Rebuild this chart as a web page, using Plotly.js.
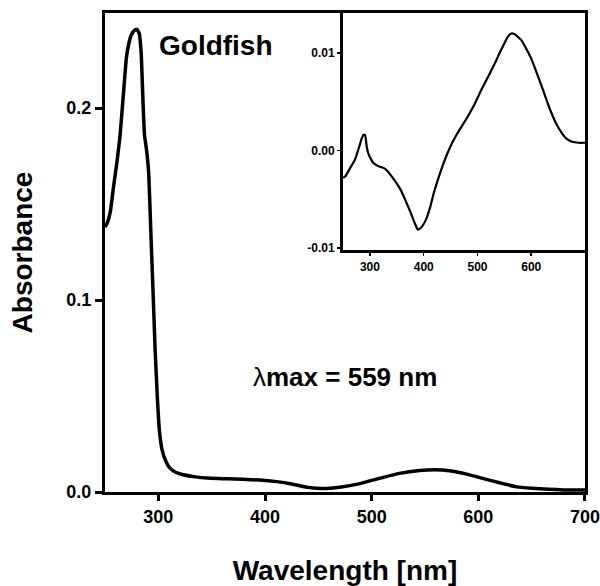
<!DOCTYPE html>
<html>
<head>
<meta charset="utf-8">
<script src="https://cdn.plot.ly/plotly-3.0.1.min.js"></script>
<style>html,body{margin:0;padding:0;background:#fff;}#plot{width:600px;height:586px;}</style>
</head>
<body>
<div id="plot"></div>
<script>
// Main absorbance spectrum (Goldfish)
const mainWavelength = [250, 252, 255, 258, 261, 264, 267.5, 270, 272.5, 275, 277.5, 280, 282, 284, 285.5, 287, 289, 291, 293, 295, 297, 299, 301, 303.5, 306.5, 310, 314, 320, 333, 349, 365, 379, 395, 411, 425, 440, 455, 470, 490, 510, 526, 545, 559, 573, 590, 604, 620, 635, 650, 666, 680, 700];
const mainAbsorbance = [0.138, 0.140, 0.146, 0.159, 0.171, 0.185, 0.209, 0.226, 0.234, 0.2385, 0.2405, 0.241, 0.239, 0.228, 0.205, 0.186, 0.178, 0.166, 0.135, 0.105, 0.074, 0.050, 0.032, 0.022, 0.0167, 0.013, 0.011, 0.0095, 0.008, 0.0071, 0.0069, 0.0066, 0.0062, 0.0054, 0.0042, 0.0024, 0.0018, 0.0025, 0.0045, 0.0075, 0.0097, 0.0112, 0.0116, 0.0111, 0.0092, 0.0071, 0.0048, 0.0028, 0.0019, 0.0014, 0.0011, 0.001];
// Inset difference spectrum
const insetWavelength = [250, 254, 263, 272, 280, 285, 288, 291, 294, 297, 302, 307, 316, 326, 334, 341, 349, 357, 366, 376, 383, 389, 395, 404, 412, 419, 431, 444, 453, 463, 472, 482, 495, 507, 520, 532, 542, 551, 557, 563, 570, 582, 591, 601, 610, 620, 629, 638, 647, 657, 666, 676, 688, 700];
const insetValue = [-0.0028, -0.00265, -0.0018, -0.00095, 0.0004, 0.0013, 0.0016, 0.0016, 0.0004, -0.0003, -0.0009, -0.0013, -0.0016, -0.0018, -0.0022, -0.0027, -0.0033, -0.004, -0.0051, -0.0064, -0.0074, -0.0081, -0.0079, -0.0071, -0.0058, -0.0043, -0.0022, -0.0003, 0.0008, 0.0018, 0.0026, 0.0035, 0.0048, 0.0062, 0.0076, 0.0089, 0.0101, 0.0111, 0.0117, 0.0120, 0.0119, 0.0113, 0.0104, 0.0093, 0.0080, 0.0065, 0.0051, 0.0038, 0.0027, 0.0018, 0.0012, 0.0009, 0.0008, 0.0008];

const mainXTicks = [300, 400, 500, 600, 700];
const mainYTicks = [0.0, 0.1, 0.2];
const mainYTickText = ['0.0', '0.1', '0.2'];
const insetXTicks = [300, 400, 500, 600];
const insetYTicks = [-0.01, 0.0, 0.01];
const insetYTickText = ['-0.01', '0.00', '0.01'];

const FONT = 'Liberation Sans, Arial, Helvetica, sans-serif';

const traces = [
  {x: mainWavelength, y: mainAbsorbance, type: 'scatter', mode: 'lines',
   line: {color: '#000', width: 3.5, shape: 'spline', smoothing: 0.3},
   xaxis: 'x', yaxis: 'y', hoverinfo: 'skip', showlegend: false},
  {x: insetWavelength, y: insetValue, type: 'scatter', mode: 'lines',
   line: {color: '#000', width: 2.2, shape: 'spline', smoothing: 0.4},
   xaxis: 'x2', yaxis: 'y2', hoverinfo: 'skip', showlegend: false}
];

const layout = {
  width: 600, height: 586,
  margin: {l: 105, r: 15, t: 13, b: 94},
  paper_bgcolor: '#fff', plot_bgcolor: 'rgba(0,0,0,0)',
  font: {family: FONT, color: '#000'},
  showlegend: false,
  xaxis: {
    domain: [0, 1], range: [250, 700.01],
    tickvals: mainXTicks, ticktext: mainXTicks.map(String),
    ticks: 'outside', ticklen: 6, tickwidth: 3, tickcolor: '#000',
    ticklabeloverflow: 'allow',
    showline: true, linewidth: 3, linecolor: '#000', mirror: true,
    showgrid: false, zeroline: false,
    tickfont: {family: FONT, size: 18, weight: 'bold', color: '#000'},
    title: {text: 'Wavelength [nm]', standoff: 35, font: {family: FONT, size: 28, weight: 'bold', color: '#000'}}
  },
  yaxis: {
    domain: [0, 1], range: [0, 0.2495],
    tickvals: mainYTicks, ticktext: mainYTickText,
    ticks: 'outside', ticklen: 7, tickwidth: 3, tickcolor: '#000',
    showline: true, linewidth: 3, linecolor: '#000', mirror: true,
    showgrid: false, zeroline: false,
    tickfont: {family: FONT, size: 18, weight: 'bold', color: '#000'},
    title: {text: 'Absorbance', standoff: 26, font: {family: FONT, size: 28, weight: 'bold', color: '#000'}}
  },
  xaxis2: {
    domain: [0.496, 1], range: [250, 700], anchor: 'y2',
    tickvals: insetXTicks, ticktext: insetXTicks.map(String),
    ticks: 'outside', ticklen: 3, tickwidth: 1.5, tickcolor: '#000',
    showline: true, linewidth: 3, linecolor: '#000', mirror: false,
    showgrid: false, zeroline: false,
    tickfont: {family: FONT, size: 12, weight: 'bold', color: '#000'}
  },
  yaxis2: {
    domain: [0.505, 1], range: [-0.0102, 0.0141], anchor: 'x2',
    tickvals: insetYTicks, ticktext: insetYTickText,
    ticks: 'outside', ticklen: 3, tickwidth: 1.5, tickcolor: '#000',
    showline: true, linewidth: 3, linecolor: '#000', mirror: false,
    showgrid: false, zeroline: false,
    tickfont: {family: FONT, size: 12, weight: 'bold', color: '#000'}
  },
  annotations: [
    {xref: 'paper', yref: 'paper', x: 0.109, y: 0.932, xanchor: 'left', yanchor: 'middle',
     text: '<b>Goldfish</b>', showarrow: false, font: {family: FONT, size: 28, color: '#000'}},
    {xref: 'x', yref: 'y', x: 475, y: 0.0597, xanchor: 'center', yanchor: 'middle',
     text: 'λ<b>max = 559 nm</b>', showarrow: false, font: {family: FONT, size: 26, color: '#000'}}
  ]
};

Plotly.newPlot('plot', traces, layout, {staticPlot: true, displayModeBar: false});
</script>
</body>
</html>
